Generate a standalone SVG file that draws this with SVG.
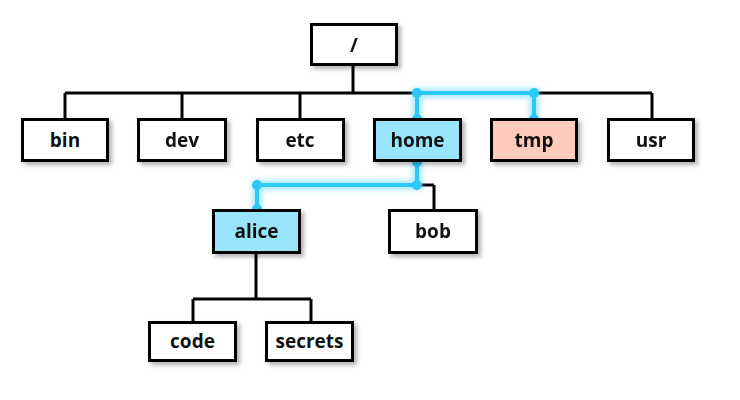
<svg xmlns="http://www.w3.org/2000/svg" width="740" height="400" viewBox="0 0 740 400">
  <defs>
    <filter id="shadow" x="-20%" y="-20%" width="150%" height="160%">
      <feDropShadow dx="3" dy="3" stdDeviation="2" flood-color="#000" flood-opacity="0.3"/>
    </filter>
    <filter id="glow" x="-10%" y="-50%" width="120%" height="200%">
      <feGaussianBlur stdDeviation="2.5"/>
    </filter>
  </defs>
  <style>
    .box { fill: #ffffff; stroke: #000; stroke-width: 3; }
    .sel { fill: #97e4fb; }
    .tmp { fill: #fdcabb; }
    .label { font-family: "Open Sans", "DejaVu Sans", sans-serif; font-weight: 700; font-size: 19px; text-anchor: middle; fill: #111; }
    .wire { fill: none; stroke: #000; stroke-width: 3; }
    .path { fill: none; stroke: #2cc8f8; stroke-width: 4; stroke-linejoin: round; }
    .halo { fill: none; stroke: #8fe2fd; stroke-width: 10; opacity: 0.75; }
    .dot { fill: #2cc8f8; }
  </style>

  <!-- tree connectors -->
  <g id="connectors">
    <path class="wire" d="M353 66 V93 M65 93 H652 M65 93 V119 M182 93 V119 M300 93 V119 M417 93 V119 M534 93 V119 M652 93 V119"/>
    <path class="wire" d="M417 162 V185 M257 185 H434 M257 185 V209 M434 185 V209"/>
    <path class="wire" d="M256 254 V299 M193 299 H311 M193 299 V321 M311 299 V321"/>
    <!-- highlighted route tmp -> / -> home -> alice -->
    <g filter="url(#glow)">
      <path class="halo" d="M534 119 V93 H417 V119"/>
      <path class="halo" d="M417 162 V185 H257 V209"/>
    </g>
    <path class="path" d="M534 119 V93 H417 V119"/>
    <path class="path" d="M417 162 V185 H257 V209"/>
    <circle class="dot" cx="417" cy="93" r="5"/>
    <circle class="dot" cx="534" cy="93" r="5"/>
    <circle class="dot" cx="417" cy="119" r="5"/>
    <circle class="dot" cx="534" cy="119" r="5"/>
    <circle class="dot" cx="417" cy="162" r="5"/>
    <circle class="dot" cx="417" cy="185" r="5"/>
    <circle class="dot" cx="257" cy="185" r="5"/>
    <circle class="dot" cx="257" cy="209" r="5"/>
  </g>

  <g id="root">
    <rect class="box" x="311.5" y="24.5" width="85" height="40" filter="url(#shadow)"/>
    <text class="label" x="354" y="52" font-size="24">/</text>
  </g>

  <g id="bin">
    <rect class="box" x="22.5" y="119.5" width="85" height="41" filter="url(#shadow)"/>
    <text class="label" x="65" y="147">bin</text>
  </g>
  <g id="dev">
    <rect class="box" x="138.5" y="119.5" width="87" height="41" filter="url(#shadow)"/>
    <text class="label" x="182" y="147">dev</text>
  </g>
  <g id="etc">
    <rect class="box" x="257.5" y="119.5" width="86" height="41" filter="url(#shadow)"/>
    <text class="label" x="300" y="147">etc</text>
  </g>
  <g id="home">
    <rect class="box sel" x="374.5" y="119.5" width="86" height="41" filter="url(#shadow)"/>
    <text class="label" x="417.5" y="147">home</text>
  </g>
  <g id="tmp">
    <rect class="box tmp" x="491.5" y="119.5" width="85" height="41" filter="url(#shadow)"/>
    <text class="label" x="534" y="147">tmp</text>
  </g>
  <g id="usr">
    <rect class="box" x="608.5" y="119.5" width="85" height="41" filter="url(#shadow)"/>
    <text class="label" x="651" y="147">usr</text>
  </g>

  <g id="alice">
    <rect class="box sel" x="213.5" y="210.5" width="86" height="42" filter="url(#shadow)"/>
    <text class="label" x="256.5" y="238">alice</text>
  </g>
  <g id="bob">
    <rect class="box" x="389.5" y="210.5" width="87" height="42" filter="url(#shadow)"/>
    <text class="label" x="433" y="238">bob</text>
  </g>

  <g id="code">
    <rect class="box" x="149.5" y="322.5" width="86" height="38" filter="url(#shadow)"/>
    <text class="label" x="192.5" y="348">code</text>
  </g>
  <g id="secrets">
    <rect class="box" x="266.5" y="322.5" width="86" height="38" filter="url(#shadow)"/>
    <text class="label" x="309.5" y="348">secrets</text>
  </g>
</svg>
